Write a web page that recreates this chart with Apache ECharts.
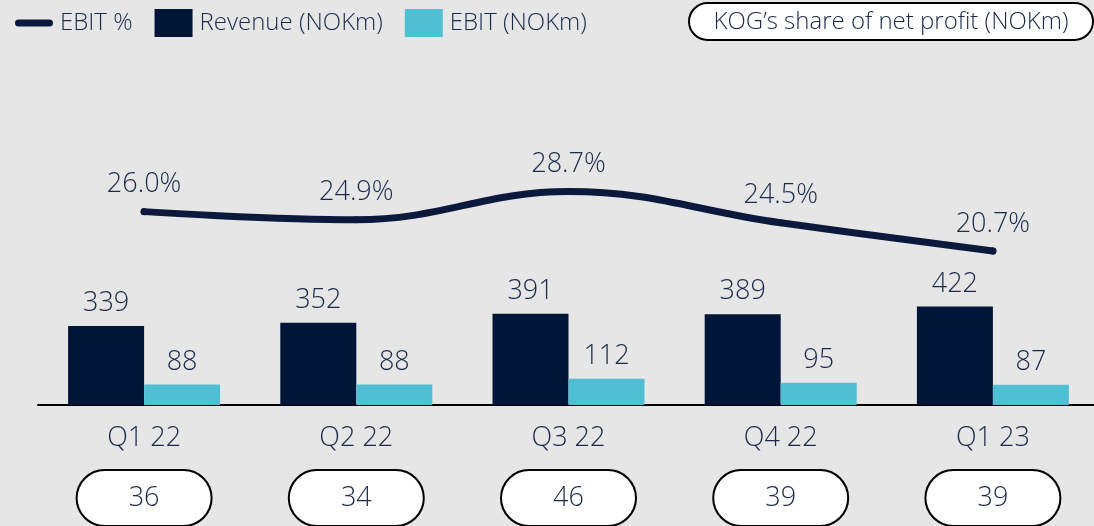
<!DOCTYPE html>
<html>
<head>
<meta charset="utf-8">
<script src="https://cdn.jsdelivr.net/npm/echarts@6/dist/echarts.min.js"></script>
<style>
  html, body { margin: 0; padding: 0; background: #e6e6e6; }
  #chart { width: 1094px; height: 526px; }
</style>
</head>
<body>
<div id="chart"></div>
<script>
// data
const quarters = ['Q1 22', 'Q2 22', 'Q3 22', 'Q4 22', 'Q1 23']
const revenue = [339, 352, 391, 389, 422]
const ebit = [88, 88, 112, 95, 87]
const ebitPct = [26.0, 24.9, 28.7, 24.5, 20.7]
const netProfit = [36, 34, 46, 39, 39]

const navy = '#001639'
const cyan = '#50bfd4'
const lineCol = '#0b1a3c'
const txt = '#1b2a4a'
const font = "'Open Sans', 'Noto Sans', sans-serif"

const myChart = echarts.init(document.getElementById('chart'))

let option = {
	backgroundColor: '#e6e6e6',
	textStyle: { fontFamily: font, color: txt },
	legend: {
		left: 10,
		top: 4,
		itemWidth: 38,
		itemHeight: 28,
		itemGap: 22,
		textStyle: { fontSize: 24, color: txt, fontFamily: font, fontWeight: 300, padding: [0, 0, 0, 2] },
		data: [
			{ name: 'EBIT %', icon: 'path://M3.5,0 H34.5 A3.5,3.5 0 0 1 34.5,7 H3.5 A3.5,3.5 0 0 1 3.5,0 Z' },
			{ name: 'Revenue (NOKm)', icon: 'rect' },
			{ name: 'EBIT (NOKm)', icon: 'rect' }
		]
	},
	grid: { left: 38, width: 1061, top: 167, bottom: 121, outerBoundsMode: 'none' },
	xAxis: [{
		type: 'category',
		data: quarters,
		position: 'bottom',
		axisLine: { lineStyle: { color: '#000', width: 2 } },
		axisTick: { show: false },
		axisLabel: { margin: 20, fontSize: 27, color: txt, fontFamily: font, fontWeight: 300 }
	}, {
		// pills with KOG's share of net profit
		type: 'category',
		data: netProfit.map(String),
		position: 'bottom',
		axisLine: { show: false },
		axisTick: { show: false },
		axisLabel: {
			margin: 66,
			fontSize: 27,
			color: txt,
			fontFamily: font,
			fontWeight: 300,
			width: 133,
			height: 54,
			lineHeight: 54,
			align: 'center',
			backgroundColor: '#fff',
			borderColor: '#000',
			borderWidth: 2,
			borderRadius: 27
		}
	}],
	yAxis: [
		{ type: 'value', min: 0, max: 1020, show: false, splitLine: { show: false } },
		{ type: 'value', min: 0, max: 32, show: false, splitLine: { show: false } }
	],
	series: [{
		name: 'Revenue (NOKm)',
		type: 'bar',
		data: revenue,
		barWidth: 76,
		barGap: '0%',
		itemStyle: { color: navy },
		label: { show: true, position: 'top', distance: 9, fontSize: 27, lineHeight: 27, color: txt, fontFamily: font, fontWeight: 300 }
	}, {
		name: 'EBIT (NOKm)',
		type: 'bar',
		data: ebit,
		barWidth: 76,
		itemStyle: { color: cyan },
		label: { show: true, position: 'top', distance: 9, fontSize: 27, lineHeight: 27, color: txt, fontFamily: font, fontWeight: 300 }
	}, {
		name: 'EBIT %',
		type: 'line',
		yAxisIndex: 1,
		data: ebitPct,
		smooth: 0.4,
		symbol: 'circle',
		symbolSize: 7,
		z: 5,
		itemStyle: { color: lineCol },
		lineStyle: { color: lineCol, width: 7, cap: 'round' },
		label: {
			show: true,
			position: 'top',
			distance: 10,
			fontSize: 27,
			lineHeight: 27,
			color: txt,
			fontFamily: font,
			fontWeight: 300,
			formatter: function (p) { return p.value.toFixed(1) + '%' }
		}
	}],
	graphic: [{
		type: 'group',
		left: 688,
		top: 2,
		children: [{
			type: 'rect',
			shape: { x: 0, y: 0, width: 404, height: 37, r: 18.5 },
			style: { fill: '#fff', stroke: '#000', lineWidth: 2 }
		}, {
			type: 'text',
			x: 202,
			y: 19,
			style: {
				text: 'KOG’s share of net profit (NOKm)',
				fontSize: 24,
				fontFamily: font,
				fontWeight: 300,
				fill: txt,
				align: 'center',
				verticalAlign: 'middle'
			}
		}]
	}]
}

myChart.setOption(option)
</script>
</body>
</html>
